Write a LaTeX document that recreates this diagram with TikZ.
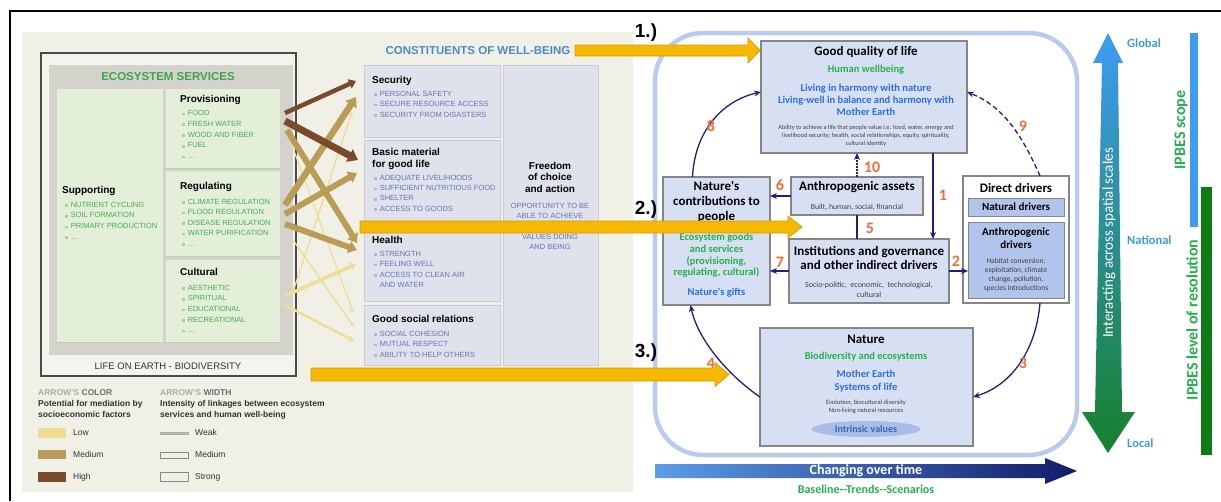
\documentclass[tikz,border=0pt]{standalone}
\usepackage{fontspec}
\setmainfont{Liberation Sans}
\newfontfamily\cf{Carlito}
\usetikzlibrary{arrows.meta,shapes.geometric}

\definecolor{beige}{HTML}{F1F0E6}
\definecolor{esframe}{HTML}{4A4A4A}
\definecolor{esout}{HTML}{F4F4EE}
\definecolor{esgrey}{HTML}{D3D3CB}
\definecolor{esgreen}{HTML}{E3EFD8}
\definecolor{esline}{HTML}{A6CF8E}
\definecolor{estitle}{HTML}{3DA54E}
\definecolor{esitem}{HTML}{47AD55}
\definecolor{bulg}{HTML}{B9C9A8}
\definecolor{conbox}{HTML}{DFE2EB}
\definecolor{conline}{HTML}{C9CCD5}
\definecolor{conitem}{HTML}{6673BC}
\definecolor{bulb}{HTML}{B5B9CB}
\definecolor{contitle}{HTML}{4B8BC9}
\definecolor{lgrey}{HTML}{ABABAB}
\definecolor{dgrey}{HTML}{6E6E6E}
\definecolor{legtext}{HTML}{333333}
\definecolor{arhigh}{HTML}{7A4A2A}
\definecolor{armed}{HTML}{B99C56}
\definecolor{arlow}{HTML}{EFDD94}
\definecolor{yarrow}{HTML}{F6B900}
\definecolor{yarrowd}{HTML}{D99B00}
\definecolor{panelcol}{HTML}{B9CCF0}
\definecolor{boxfill}{HTML}{D7E0F3}
\definecolor{boxline}{HTML}{858585}
\definecolor{navy}{HTML}{1C2180}
\definecolor{numor}{HTML}{F26C3A}
\definecolor{tgreen}{HTML}{24B04E}
\definecolor{tblue}{HTML}{2B6FE6}
\definecolor{drvfill}{HTML}{B1C4EB}
\definecolor{intr}{HTML}{A9BDE8}
\definecolor{intrtext}{HTML}{3C62B5}
\definecolor{tgl}{HTML}{5C9CEA}
\definecolor{tgr}{HTML}{121B68}
\definecolor{vtop}{HTML}{3E9CF2}
\definecolor{vmid}{HTML}{2A7FA6}
\definecolor{vbot}{HTML}{16812C}
\definecolor{scalecol}{HTML}{3B9BE2}
\definecolor{barblue}{HTML}{3D9BF0}
\definecolor{bargreen}{HTML}{0F7B14}

\newcommand\gb{\textcolor{bulg}{\rule[0.3pt]{2.6pt}{2.6pt}}\hspace{3pt}}
\newcommand\cb{\textcolor{bulb}{\rule[0.3pt]{2.6pt}{2.6pt}}\hspace{3pt}}
\newcommand\cfnt[2]{\cf\fontsize{#1}{#2}\selectfont}
\newcommand\yarrowshape[6]{%
 \filldraw[fill=yarrow, draw=yarrowd, line width=0.7pt, line join=miter]
  (#1,#2-#5) -- (#3,#2-#5) -- (#3,#2-#6) -- (#4,#2) -- (#3,#2+#6) -- (#3,#2+#5) -- (#1,#2+#5) -- cycle;}

\tikzset{
 box/.style={anchor=north west, inner sep=0pt, outer sep=0pt},
 gbox/.style={box, fill=esgreen},
 cbox/.style={box, fill=conbox, draw=conline, line width=1pt},
 rbox/.style={box, fill=boxfill, draw=boxline, line width=1.8pt},
 dbox/.style={box, fill=drvfill, draw=boxline, line width=1pt},
 gitem/.style={anchor=west, inner sep=0pt, text=esitem, font=\fontsize{7.5}{9}\selectfont, text height=6pt, text depth=1.5pt},
 citem/.style={gitem, text=conitem},
 ctitem/.style={citem, anchor=center},
 lttl/.style={anchor=west, inner sep=0pt, font=\bfseries\fontsize{10}{12}\selectfont, text height=7.5pt, text depth=2pt},
 fttl/.style={inner sep=0pt, font=\bfseries\fontsize{10}{12}\selectfont, text height=7.5pt, text depth=2pt},
 bigttl/.style={inner sep=0pt, font=\bfseries\fontsize{11.5}{13}\selectfont},
 leg/.style={anchor=west, inner sep=0pt, text=legtext, font=\fontsize{8.5}{10}\selectfont, text height=6.5pt, text depth=2pt},
 legb/.style={leg, font=\bfseries\fontsize{8.5}{10}\selectfont},
 esarr/.style={line width=#1pt, -{Triangle[length=2pt 1.1, width=2.5pt 1.6]}},
 rt/.style={inner sep=0pt, align=center},
 num/.style={inner sep=0pt, text=numor, font=\cfnt{16}{16}\bfseries},
 narr/.style={draw=navy, line width=1.3pt, -{Stealth[length=7pt,width=6pt]}},
 stepl/.style={inner sep=0pt, font=\bfseries\fontsize{19}{19}\selectfont},
}

\begin{document}
\begin{tikzpicture}[x=1pt,y=-1pt]
\useasboundingbox (0,0) rectangle (1221,501);
\fill[white] (0,0) rectangle (1221,501);
\draw[line width=2.5pt] (10,501) -- (10,11) -- (1221,11);

%% ================= left: ecosystem services
\fill[beige] (22,32) rectangle (633,492);
\node[box, draw=esframe, line width=1.3pt, fill=esout, minimum width=255pt, minimum height=323pt] (es) at (41,53) {};
\node[box, fill=esgrey, minimum width=244pt, minimum height=290pt] (esg) at (49,65) {};
\node[gbox, minimum width=106pt, minimum height=253pt] (sup) at (57,89) {};
\node[gbox, minimum width=114pt, minimum height=79pt] (prov) at (166,89) {};
\node[gbox, minimum width=114pt, minimum height=85pt] (reg) at (166,171) {};
\node[gbox, minimum width=114pt, minimum height=82pt] (cult) at (166,260) {};
\foreach \b in {sup,prov,reg,cult}
  \draw[esline, line width=0.8pt, dash pattern=on 1.2pt off 0.8pt] (\b.south west) -- (\b.south east);

\node[bigttl, text=estitle] (estl) at (168,77) {ECOSYSTEM SERVICES};
\node[lttl] (supt) at (62,191) {Supporting};
\node[lttl] (provt) at (180,100) {Provisioning};
\node[lttl] (regt) at (180,187) {Regulating};
\node[lttl] (cultt) at (180,273) {Cultural};
\foreach \t [count=\i] in {NUTRIENT CYCLING, SOIL FORMATION, PRIMARY PRODUCTION, \dots}
  \node[gitem] (sp\i) at (65, 194.5+10.6*\i) {\gb\t};
\foreach \t [count=\i] in {FOOD, FRESH WATER, WOOD AND FIBER, FUEL, \dots}
  \node[gitem] (pv\i) at (182, 102.5+10.8*\i) {\gb\t};
\foreach \t [count=\i] in {CLIMATE REGULATION, FLOOD REGULATION, DISEASE REGULATION, WATER PURIFICATION, \dots}
  \node[gitem] (rg\i) at (182, 191.5+10.5*\i) {\gb\t};
\foreach \t [count=\i] in {AESTHETIC, SPIRITUAL, EDUCATIONAL, RECREATIONAL, \dots}
  \node[gitem] (cu\i) at (182, 277.5+10.6*\i) {\gb\t};
\node[inner sep=0pt, text=legtext, font=\fontsize{9.5}{11}\selectfont] (life) at (168,366) {LIFE ON EARTH - BIODIVERSITY};

% legend
\node[legb] (lc) at (38,393) {\textcolor{lgrey}{ARROW'S} \textcolor{dgrey}{COLOR}};
\node[legb] (lc1) at (38,404) {Potential for mediation by};
\node[legb] (lc2) at (38,415) {socioeconomic factors};
\fill[arlow] (38,428) rectangle (66,438);
\fill[armed] (38,450) rectangle (66,459);
\fill[arhigh] (38,472) rectangle (66,482);
\node[leg] (llow) at (73,433) {Low};
\node[leg] (lmed) at (73,455) {Medium};
\node[leg] (lhigh) at (73,477) {High};
\node[legb] (lw) at (160,393) {\textcolor{lgrey}{ARROW'S} \textcolor{dgrey}{WIDTH}};
\node[legb] (lw1) at (160,404) {Intensity of linkages between ecosystem};
\node[legb] (lw2) at (160,415) {services and human well-being};
\filldraw[fill=lgrey!80, draw=lgrey] (160,432) rectangle (188,434.5);
\draw[lgrey!80!black, line width=0.8pt] (160,452.5) rectangle (188,458);
\draw[lgrey!80!black, line width=0.8pt] (160,472.5) rectangle (188,481.5);
\node[leg] (lweak) at (195,433) {Weak};
\node[leg] (lwmed) at (195,455) {Medium};
\node[leg] (lstrong) at (195,477) {Strong};

%% ================= constituents of well-being
\node[bigttl, text=contitle] (cont) at (478,51) {CONSTITUENTS OF WELL-BEING};
\node[cbox, minimum width=136pt, minimum height=72pt] (sec) at (364,65) {};
\node[cbox, minimum width=136pt, minimum height=83pt] (bas) at (364,140) {};
\node[cbox, minimum width=136pt, minimum height=74pt] (hea) at (364,227) {};
\node[cbox, minimum width=136pt, minimum height=60pt] (soc) at (364,305) {};
\node[cbox, minimum width=95pt, minimum height=300pt] (fre) at (503,65) {};

\node[lttl] (sect) at (372,81) {Security};
\node[lttl] (bast1) at (372,153) {Basic material};
\node[lttl] (bast2) at (372,165) {for good life};
\node[lttl] (heat) at (372,241) {Health};
\node[lttl] (soct) at (372,320) {Good social relations};
\foreach \t [count=\i] in {PERSONAL SAFETY, SECURE RESOURCE ACCESS, SECURITY FROM DISASTERS}
  \node[citem] (se\i) at (374, 83.5+10.5*\i) {\cb\t};
\foreach \t [count=\i] in {ADEQUATE LIVELIHOODS, SUFFICIENT NUTRITIOUS FOOD, SHELTER, ACCESS TO GOODS}
  \node[citem] (ba\i) at (374, 167.5+10.4*\i) {\cb\t};
\foreach \t [count=\i] in {STRENGTH, FEELING WELL, ACCESS TO CLEAN AIR}
  \node[citem] (he\i) at (374, 243.5+10.5*\i) {\cb\t};
\node[citem] (he4) at (379.6,285) {AND WATER};
\foreach \t [count=\i] in {SOCIAL COHESION, MUTUAL RESPECT, ABILITY TO HELP OTHERS}
  \node[citem] (so\i) at (374, 323.5+10.5*\i) {\cb\t};
\foreach \t [count=\i] in {Freedom, of choice, and action}
  \node[fttl] (fr\i) at (550, 155.5+11.3*\i) {\t};
\node[ctitem] (fo1) at (550,206) {OPPORTUNITY TO BE};
\node[ctitem] (fo2) at (550,216) {ABLE TO ACHIEVE};
\node[ctitem] (fo3) at (550,237) {VALUES DOING};
\node[ctitem] (fo4) at (550,247) {AND BEING};

% linkage arrows
\foreach \sx/\sy/\tx/\ty/\c/\w [count=\i] in {
  293/292/352/112/arlow/1.3, 290/140/353/312/arlow/1.2, 293/240/354/327/arlow/1.4,
  285/296/356/264/arlow/3.5, 285/305/354/341/arlow/2.5,
  287/130/357/243/armed/6, 285/205/356/97/armed/6.5, 285/214/357/173/armed/6,
  285/224/357/250/armed/6,
  285/113/356/81/arhigh/4.5, 285/121/358/160/arhigh/7} {
  \coordinate (ls\i) at (\sx,\sy);
  \coordinate (le\i) at (\tx,\ty);
  \draw[esarr=\w, draw=\c, fill=\c] (ls\i) -- (le\i);
}

%% ================= IPBES framework
\draw[panelcol, line width=4.5pt, rounded corners=48pt] (655,33) rectangle (1077,455);

\node[rbox, minimum width=206pt, minimum height=112pt] (gql) at (761,41) {};
\node[rt, font=\cfnt{13}{15}\bfseries] (gqlt) at (866,52) {Good quality of life};
\node[rt, font=\cfnt{10.5}{12}\bfseries, text=tgreen] (gqlh) at (866,70) {Human wellbeing};
\node[rt, font=\cfnt{10.5}{12}\bfseries, text=tblue] (gqlb) at (866,100) {Living in harmony with nature\\Living-well in balance and harmony with\\Mother Earth};
\node[rt, font=\cfnt{6.3}{8}, text=black!75] (gqls) at (866,136) {Ability to achieve a life that people value i.e. food, water, energy and\\livelihood security; health, social relationships, equity, spirituality,\\cultural identity};

\node[rbox, minimum width=107pt, minimum height=128pt] (ncp) at (663,177) {};
\node[rt, font=\cfnt{13}{15}\bfseries] (ncpt) at (716.5,202) {Nature's\\contributions to\\people};
\node[rt, font=\cfnt{10.5}{11.7}\bfseries, text=tgreen] (ncpg) at (716.5,255.5) {Ecosystem goods\\and services\\(provisioning,\\regulating, cultural)};
\node[rt, font=\cfnt{10.5}{12}\bfseries, text=tblue] (ncpb) at (716.5,293) {Nature's gifts};

\node[rbox, minimum width=132pt, minimum height=38pt] (aa) at (791,177) {};
\node[rt, font=\cfnt{13}{15}\bfseries] (aat) at (857,187.5) {Anthropogenic assets};
\node[rt, font=\cfnt{7.8}{9}, text=black!75] (aas) at (857,207) {Built, human, social, financial};

\node[rbox, minimum width=160pt, minimum height=64pt] (inst) at (789,239) {};
\node[rt, font=\cfnt{13}{14}\bfseries] (instt) at (869,258) {Institutions and governance\\and other indirect drivers};
\node[rt, font=\cfnt{8}{10}, text=black!75] (insts) at (869,290) {Socio-politic,\ \ economic,\ \ technological,\\cultural};

\node[box, fill=white, draw=boxline, line width=1.8pt, minimum width=106pt, minimum height=127pt] (dd) at (963,176) {};
\node[rt, font=\cfnt{13}{15}\bfseries] (ddt) at (1016,187.5) {Direct drivers};
\node[dbox, minimum width=96pt, minimum height=18pt] (ndr) at (968,198) {};
\node[rt, font=\cfnt{11}{13}\bfseries] (ndrt) at (1016,207) {Natural drivers};
\node[dbox, minimum width=96pt, minimum height=76pt] (adr) at (968,222) {};
\node[rt, font=\cfnt{11}{13}\bfseries] (adrt) at (1016,238.5) {Anthropogenic\\drivers};
\node[rt, font=\cfnt{7.5}{9}, text=black!75] (adrs) at (1016,274.5) {Habitat conversion,\\exploitation, climate\\change, pollution,\\species introductions};

\node[rbox, minimum width=213pt, minimum height=118pt] (nat) at (760,328) {};
\node[rt, font=\cfnt{13}{15}\bfseries] (natt) at (866,339) {Nature};
\node[rt, font=\cfnt{10.5}{12}\bfseries, text=tgreen] (natg) at (866,357) {Biodiversity and ecosystems};
\node[rt, font=\cfnt{10.5}{13}\bfseries, text=tblue] (natb) at (866,381.5) {Mother Earth\\Systems of life};
\node[rt, font=\cfnt{6.5}{8}, text=black!75] (nats) at (866,407) {Evolution, biocultural diversity\\Non-living natural resources};
\node[ellipse, fill=intr, minimum width=109pt, minimum height=16pt, inner sep=0pt, text=intrtext, font=\cfnt{10}{12}\bfseries] (intrv) at (866,429) {Intrinsic values};

% connectors
\draw[narr] ([xshift=-34pt]gql.south east) -- ([xshift=-34pt]gql.south east |- inst.north);
\draw[narr] (inst.east) -- (inst.east -| adr.west);
\draw[narr] ([xshift=24pt]dd.south) .. controls (1036,350) and (1012,385) .. ([yshift=-10pt]nat.east);
\draw[narr] ([yshift=-10pt]nat.west) .. controls (728,375) and (698,340) .. ([xshift=-26pt]ncp.south);
\draw[draw=navy, line width=1.3pt] (aa.south) -- (aa.south |- inst.north);
\draw[narr] (aa.west) -- (aa.west -| ncp.east);
\draw[narr] (inst.west) -- (inst.west -| ncp.east);
\draw[narr] ([xshift=-24pt]ncp.north) .. controls (695,128) and (725,100) .. ([yshift=5pt]gql.west);
\draw[narr, dash pattern=on 5pt off 3pt] ([xshift=24pt]dd.north) .. controls (1020,130) and (1000,105) .. ([yshift=5pt]gql.east);
\draw[narr, dash pattern=on 1.6pt off 1.4pt] (aa.north) -- (aa.north |- gql.south);

\node[num] (n1) at (943,195) {1};
\node[num] (n2) at (956,261) {2};
\node[num] (n3) at (1023,363) {3};
\node[num] (n4) at (711,363) {4};
\node[num] (n5) at (870,228) {5};
\node[num] (n6) at (780,185) {6};
\node[num] (n7) at (780,262) {7};
\node[num] (n8) at (711,126) {8};
\node[num] (n9) at (1023,126) {9};
\node[num] (n10) at (872,167) {10};

% time arrow
\shade[left color=tgl, right color=tgr] (655,464) -- (1045,464) -- (1045,458) -- (1077,471) -- (1045,484) -- (1045,478) -- (655,478) -- cycle;
\node[inner sep=0pt, text=white, font=\cfnt{14}{16}\bfseries] (time) at (866,471) {Changing over time};
\node[inner sep=0pt, text=tgreen, font=\cfnt{12}{14}\bfseries] (btsc) at (866,489) {Baseline--Trends--Scenarios};

% spatial scales
\shade[top color=vtop, middle color=vmid, bottom color=vbot] (1102,63) -- (1093,63) -- (1108,33) -- (1123,63) -- (1118,63) -- (1122,412) -- (1135,412) -- (1108,453) -- (1082,412) -- (1095,412) -- cycle;
\node[inner sep=0pt, rotate=90, text=white, font=\cfnt{15}{17}] (inter) at (1109,243) {Interacting across spatial scales};
\node[anchor=west, inner sep=0pt, text=scalecol, font=\cfnt{12.5}{14}\bfseries] (glob) at (1127,43) {Global};
\node[anchor=west, inner sep=0pt, text=scalecol, font=\cfnt{12.5}{14}\bfseries] (natl) at (1127,240) {National};
\node[anchor=west, inner sep=0pt, text=scalecol, font=\cfnt{12.5}{14}\bfseries] (locl) at (1127,443) {Local};
\fill[barblue] (1190,33) rectangle (1198,227);
\fill[bargreen] (1201,187) rectangle (1212,455);
\node[inner sep=0pt, rotate=90, text=tgreen, font=\cfnt{16}{18}\bfseries] (scope) at (1181,130) {IPBES scope};
\node[inner sep=0pt, rotate=90, text=tgreen, font=\cfnt{16}{18}\bfseries] (resol) at (1192,320) {IPBES level of resolution};

%% ================= yellow linking arrows
\yarrowshape{575}{50.5}{748}{760}{5.5}{12.5}
\yarrowshape{360}{227}{788}{802}{6}{11}
\yarrowshape{311}{374.5}{715}{729}{6.5}{12}
\node[stepl] (s1) at (646,33) {1.)};
\node[stepl] (s2) at (646,210) {2.)};
\node[stepl] (s3) at (646,353) {3.)};
\end{tikzpicture}
\end{document}
